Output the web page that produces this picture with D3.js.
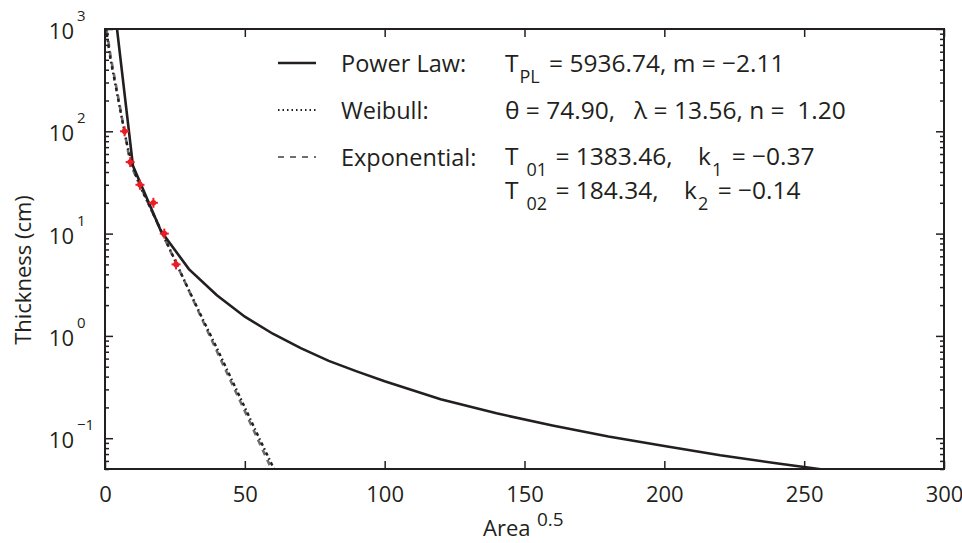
<!DOCTYPE html>
<html>
<head>
<meta charset="utf-8">
<script src="https://cdn.jsdelivr.net/npm/d3@7"></script>
<style>
  body { margin: 0; background: #fff; }
  text { font-family: 'Open Sans', sans-serif; fill: #231f20; white-space: pre; }
  .axis line { stroke: #231f20; stroke-width: 1.5; }
  .axis path { display: none; }
</style>
</head>
<body>
<div id="chart"></div>
<script>
// chart data

var powerX = [1, 10, 20, 30, 40, 50, 60, 70, 80, 90, 100, 120, 140, 160, 180, 200, 220, 240, 260]
var powerY = [5937, 46, 10.6, 4.5, 2.5, 1.54, 1.05, 0.76, 0.57, 0.45, 0.36, 0.24, 0.175, 0.133, 0.104, 0.084, 0.068, 0.057, 0.048]

var weibullX = [0, 2, 4, 6, 8, 10, 12.5, 15, 20, 25, 30, 35, 40, 45, 50, 55, 60, 62]
var weibullY = [1150, 500, 260, 135, 72, 44, 29, 21, 10.8, 5.5, 2.8, 1.45, 0.76, 0.39, 0.2, 0.102, 0.053, 0.043]

var expX = [0, 2, 4, 6, 8, 9, 10, 15, 20, 25, 30, 35, 40, 45, 50, 55, 60]
var expY = [1250, 540, 275, 138, 70, 48, 42, 21.1, 10.7, 5.45, 2.77, 1.4, 0.71, 0.36, 0.184, 0.093, 0.047]

var obsX = [7, 9, 12.5, 17.3, 21.2, 25.4]
var obsY = [100, 50, 30, 20, 10, 5]

var xTicks = [0, 50, 100, 150, 200, 250, 300]
var yTicks = [0.1, 1, 10, 100, 1000]
var yExponents = ['\u22121', '0', '1', '2', '3']

var legendNames = ['Power Law:', 'Weibull:', 'Exponential:']

var margin = { top: 29, left: 105, right: 18, bottom: 74 }
var width = 962 - margin.left - margin.right
var height = 543 - margin.top - margin.bottom

var svg = d3
  .select('#chart')
  .append('svg')
  .attr('width', 962)
  .attr('height', 543)
  .append('g')
  .attr('transform', 'translate(' + margin.left + ',' + margin.top + ')')

var xPositionScale = d3.scaleLinear().domain([0, 300]).range([0, width])
var yPositionScale = d3.scaleLog().domain([0.05, 1000]).range([height, 0])

svg
  .append('clipPath')
  .attr('id', 'plot-clip')
  .append('rect')
  .attr('width', width)
  .attr('height', height)

var line = d3
  .line()
  .x(d => xPositionScale(d[0]))
  .y(d => yPositionScale(d[1]))

var curves = svg.append('g').attr('clip-path', 'url(#plot-clip)')

curves
  .append('path')
  .datum(d3.zip(expX, expY))
  .attr('d', line)
  .attr('fill', 'none')
  .attr('stroke', '#6d6e71')
  .attr('stroke-width', 2.6)
  .attr('stroke-dasharray', '6,5')

curves
  .append('path')
  .datum(d3.zip(weibullX, weibullY))
  .attr('d', line)
  .attr('fill', 'none')
  .attr('stroke', '#231f20')
  .attr('stroke-width', 2.4)
  .attr('stroke-dasharray', '3.5,3,1.5,3')

curves
  .append('path')
  .datum(d3.zip(powerX, powerY))
  .attr('d', line)
  .attr('fill', 'none')
  .attr('stroke', '#231f20')
  .attr('stroke-width', 2.6)

// observed points with small error bars
var obs = svg
  .selectAll('.obs')
  .data(d3.zip(obsX, obsY))
  .enter()
  .append('g')
  .attr('class', 'obs')
  .attr('transform', d => 'translate(' + xPositionScale(d[0]) + ',' + yPositionScale(d[1]) + ')')

obs.append('line').attr('x1', -4.5).attr('x2', 4.5).attr('stroke', '#ed1c24').attr('stroke-width', 2)
obs.append('line').attr('y1', -5).attr('y2', 5).attr('stroke', '#ed1c24').attr('stroke-width', 2)
obs.append('circle').attr('r', 2.8).attr('fill', '#ed1c24')

// axes
var minorTicks = []
d3.range(-2, 3).forEach(p => {
  d3.range(2, 10).forEach(m => {
    var v = m * Math.pow(10, p)
    if (v >= 0.05 && v <= 1000) minorTicks.push(v)
  })
})

var xAxis = d3.axisBottom(xPositionScale).tickValues(xTicks).tickSize(-8).tickPadding(10)
svg
  .append('g')
  .attr('class', 'axis x-axis')
  .attr('transform', 'translate(0,' + height + ')')
  .call(xAxis)
  .selectAll('text')
  .attr('font-size', 22)
  .attr('dy', 0)
  .attr('y', 33)

svg
  .append('g')
  .attr('class', 'axis')
  .call(d3.axisTop(xPositionScale).tickValues(xTicks).tickSize(-8).tickFormat(''))

var yAxis = d3.axisLeft(yPositionScale).tickValues(yTicks).tickSize(-8).tickFormat('')
svg.append('g').attr('class', 'axis y-axis').call(yAxis)
svg.append('g').attr('class', 'axis').call(d3.axisLeft(yPositionScale).tickValues(minorTicks).tickSize(-4).tickFormat(''))

svg
  .append('g')
  .attr('class', 'axis')
  .attr('transform', 'translate(' + width + ',0)')
  .call(d3.axisRight(yPositionScale).tickValues(yTicks).tickSize(-8).tickFormat(''))
svg
  .append('g')
  .attr('class', 'axis')
  .attr('transform', 'translate(' + width + ',0)')
  .call(d3.axisRight(yPositionScale).tickValues(minorTicks).tickSize(-4).tickFormat(''))

yTicks.forEach((t, i) => {
  var yy = yPositionScale(t)
  svg
    .append('text')
    .attr('x', -31)
    .attr('y', yy + 10)
    .attr('text-anchor', 'end')
    .attr('font-size', 22)
    .text('10')
  svg
    .append('text')
    .attr('x', -28)
    .attr('y', yy - 8)
    .attr('font-size', 15)
    .text(yExponents[i])
})

svg
  .append('rect')
  .attr('width', width)
  .attr('height', height)
  .attr('fill', 'none')
  .attr('stroke', '#231f20')
  .attr('stroke-width', 2)

// axis titles
svg
  .append('text')
  .attr('x', 378)
  .attr('y', height + 67)
  .attr('font-size', 22)
  .text('Area')
svg
  .append('text')
  .attr('x', 432)
  .attr('y', height + 57)
  .attr('font-size', 19)
  .text('0.5')

svg
  .append('text')
  .attr('transform', 'translate(' + -74 + ',' + 241 + ') rotate(-90)')
  .attr('text-anchor', 'middle')
  .attr('font-size', 22)
  .text('Thickness (cm)')

// legend
var legendY = [34, 81, 128]
var dashes = [null, '1.5,3', '6,6']
var strokes = ['#231f20', '#231f20', '#6d6e71']

legendNames.forEach((name, i) => {
  svg
    .append('line')
    .attr('x1', 173)
    .attr('x2', 211)
    .attr('y1', legendY[i])
    .attr('y2', legendY[i])
    .attr('stroke', strokes[i])
    .attr('stroke-width', i === 0 ? 2.6 : 2.2)
    .attr('stroke-dasharray', dashes[i])
  svg
    .append('text')
    .attr('x', 236)
    .attr('y', legendY[i] + 9)
    .attr('font-size', 23.5)
    .text(name)
})

function sub(txt, parts) {
  parts.forEach(p => {
    var ts = txt.append('tspan').text(p[0])
    if (p[1] === 'sub') ts.attr('font-size', 18).attr('dy', 11)
    if (p[1] === 'base') ts.attr('dy', -11)
    if (p[2]) ts.attr('dx', p[2])
  })
}

var row1 = svg.append('text').attr('x', 400).attr('y', legendY[0] + 9).attr('font-size', 24.5)
sub(row1, [['T'], ['PL', 'sub', 1], [' = 5936.74, m = \u22122.11', 'base', 3]])

svg
  .append('text')
  .attr('x', 400)
  .attr('y', legendY[1] + 9)
  .attr('font-size', 24.5)
  .text('\u03b8 = 74.90,   \u03bb = 13.56, n =  1.20')

var row3 = svg.append('text').attr('x', 400).attr('y', legendY[2] + 8).attr('font-size', 24.5)
sub(row3, [['T'], ['01', 'sub', 8], [' = 1383.46,    k', 'base', 2], ['1', 'sub', 1], [' = \u22120.37', 'base', 3]])

var row4 = svg.append('text').attr('x', 400).attr('y', legendY[2] + 42).attr('font-size', 24.5)
sub(row4, [['T'], ['02', 'sub', 8], [' = 184.34,    k', 'base', 2], ['2', 'sub', 1], [' = \u22120.14', 'base', 3]])
</script>
</body>
</html>
